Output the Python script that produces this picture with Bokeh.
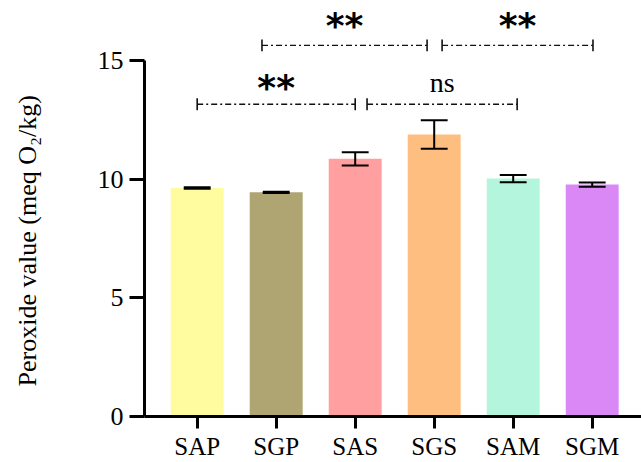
from bokeh.plotting import figure
from bokeh.layouts import row
from bokeh.models import FixedTicker, Range1d, ColumnDataSource
from bokeh.core.properties import value
from bokeh.embed import file_html
from bokeh.resources import INLINE
import numpy as np

groups = ["SAP", "SGP", "SAS", "SGS", "SAM", "SGM"]
means = [9.62, 9.44, 10.85, 11.88, 10.02, 9.77]
errors = [0.03, 0.03, 0.28, 0.60, 0.15, 0.09]
colors = ["#FFFB9F", "#AEA573", "#FF9F9F", "#FEBE7F", "#B4F5DE", "#DA88F6"]
y_ticks = [0, 5, 10, 15]
y_title = "Peroxide value (meq O₂/kg)"

# significance comparisons: (from group, to group, label, bracket height)
cmp_from = ["SAP", "SAS", "SGP", "SGS"]
cmp_to = ["SAS", "SAM", "SGS", "SGM"]
cmp_label = ["**", "ns", "**", "**"]
cmp_height = [13.15, 13.15, 15.63, 15.63]

SERIF = "Liberation Serif"
W_TITLE = 56
Y_END = 17.52

# narrow strip holding the y-axis title, centred on the 0-15 axis span
t = figure(width=W_TITLE, height=462, output_backend="svg", toolbar_location=None,
           x_range=Range1d(0, 1), y_range=Range1d(0, Y_END),
           x_axis_type=None, y_axis_type=None,
           min_border_left=0, min_border_right=0, min_border_top=0, min_border_bottom=45)
t.outline_line_color = None
t.grid.visible = False
t.text(x=[0.482], y=[7.4], text=[y_title], angle=np.pi / 2,
       text_font=value(SERIF), text_font_size="26px", text_color="black",
       text_align="center", text_baseline="middle")

p = figure(width=641 - W_TITLE, height=462, output_backend="svg", toolbar_location=None,
           x_range=Range1d(-0.667, 5.624), y_range=Range1d(0, Y_END),
           min_border_left=144 - W_TITLE, min_border_right=0, min_border_top=0,
           min_border_bottom=45)
p.outline_line_color = None
p.xgrid.visible = False
p.ygrid.visible = False

x = np.arange(len(groups))
src = ColumnDataSource(dict(x=x, top=means, color=colors,
                            lo=np.array(means) - np.array(errors),
                            hi=np.array(means) + np.array(errors)))
p.vbar(x="x", top="top", bottom=0, width=0.67, fill_color="color", line_color=None, source=src)

# error bars
cap = 0.17
p.segment(x0="x", y0="lo", x1="x", y1="hi", line_color="black", line_width=2, source=src)
xs = x.astype(float)
p.segment(x0=xs - cap, y0=src.data["hi"], x1=xs + cap, y1=src.data["hi"], line_color="black", line_width=2)
p.segment(x0=xs - cap, y0=src.data["lo"], x1=xs + cap, y1=src.data["lo"], line_color="black", line_width=2)

# brackets
idx = {g: i for i, g in enumerate(groups)}
adj_left = [0.0, 0.15, -0.18, 0.10]
adj_right = [0.0, 0.05, -0.09, 0.01]
bx0 = [idx[a] + d for a, d in zip(cmp_from, adj_left)]
bx1 = [idx[b] + d for b, d in zip(cmp_to, adj_right)]
p.segment(x0=bx0, y0=cmp_height, x1=bx1, y1=cmp_height, line_color="#111111",
          line_width=1.3, line_dash="6 3 2 3")
tk = 0.25
ends = bx0 + bx1
ey = cmp_height + cmp_height
p.segment(x0=ends, y0=[h - tk for h in ey], x1=ends, y1=[h + tk for h in ey],
          line_color="#111111", line_width=1.6)

cx = [(a + b) / 2 for a, b in zip(bx0, bx1)]
star_i = [i for i, l in enumerate(cmp_label) if l != "ns"]
ns_i = [i for i, l in enumerate(cmp_label) if l == "ns"]
star_off = {0: -17, 2: -20, 3: -20}
p.text(x=[cx[i] for i in star_i], y=[cmp_height[i] for i in star_i],
       text=[cmp_label[i] for i in star_i], y_offset=[star_off[i] for i in star_i],
       text_font=value("DejaVu Sans"), text_font_style="bold", text_font_size="36px",
       text_align="center", text_baseline="alphabetic", text_color="black")
p.text(x=[cx[i] for i in ns_i], y=[cmp_height[i] for i in ns_i],
       text=[cmp_label[i] for i in ns_i], y_offset=-22,
       text_font=value(SERIF), text_font_size="28px",
       text_align="center", text_baseline="alphabetic", text_color="black")

# axes
p.xaxis.ticker = FixedTicker(ticks=list(range(len(groups))))
p.xaxis.major_label_overrides = {i: g for i, g in enumerate(groups)}
p.xaxis.minor_tick_line_color = None
p.xaxis.major_tick_in = 0
p.xaxis.major_tick_out = 12
p.xaxis.major_label_standoff = 4
p.xaxis.axis_line_width = 3
p.xaxis.major_tick_line_width = 3
p.xaxis.major_label_text_font = SERIF
p.xaxis.major_label_text_font_size = "25px"
p.xaxis.major_label_text_color = "black"

p.yaxis.ticker = FixedTicker(ticks=y_ticks)
p.yaxis.bounds = (0, 15)
p.yaxis.minor_tick_line_color = None
p.yaxis.major_tick_in = 0
p.yaxis.major_tick_out = 15
p.yaxis.major_label_standoff = 6
p.yaxis.axis_line_width = 3
p.yaxis.major_tick_line_width = 3
p.yaxis.major_label_text_font = SERIF
p.yaxis.major_label_text_font_size = "26px"
p.yaxis.major_label_text_color = "black"

layout = row(t, p, spacing=0)
open("out.html", "w").write(file_html(layout, INLINE))
